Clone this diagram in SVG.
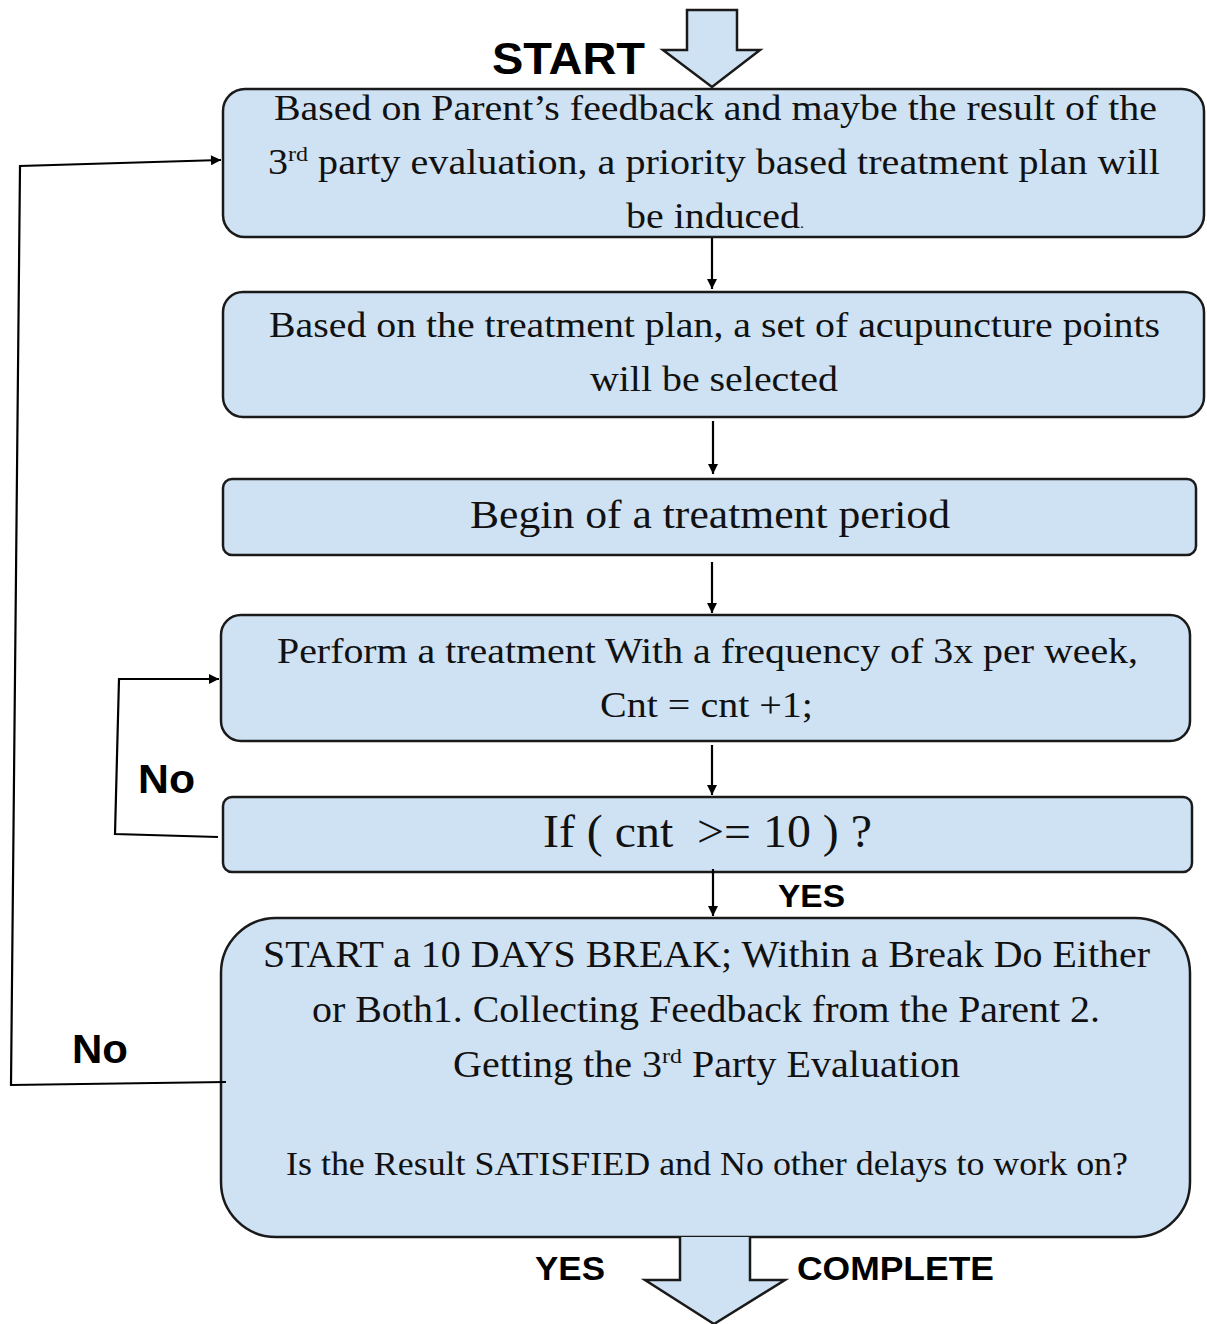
<svg xmlns="http://www.w3.org/2000/svg" width="1207" height="1324" viewBox="0 0 1207 1324">
<style>
.box{fill:#cfe2f3;stroke:#1a1a1a;stroke-width:2.5}
.big{fill:#cfe2f3;stroke:#1a1a1a;stroke-width:2.5;stroke-linejoin:miter}
.t{font-family:"Liberation Serif","Times New Roman",serif;fill:#111;text-anchor:middle}
.lbl{font-family:"Liberation Sans",Arial,sans-serif;font-weight:bold;fill:#000}
.c{fill:none;stroke:#000;stroke-width:2.2}
</style>
<defs>
<marker id="ah" viewBox="0 0 10 10" refX="10" refY="5" markerWidth="12" markerHeight="10" markerUnits="userSpaceOnUse" orient="auto">
<path d="M0,0 L10,5 L0,10 z" fill="#000"/>
</marker>
</defs>
<g id="start-arrow">
<path class="big" d="M687,10 H737 V50 H760 L712,87 L663,50 H687 Z"/>
<text class="lbl" x="492" y="74" font-size="44" textLength="153" lengthAdjust="spacingAndGlyphs">START</text>
</g>
<g id="n1">
<rect class="box" x="223" y="89" width="981" height="148" rx="22"/>
<text class="t" font-size="35" x="715.5" y="120" textLength="883" lengthAdjust="spacingAndGlyphs">Based on Parent’s feedback and maybe the result of the</text>
<text class="t" font-size="35" x="714" y="174" textLength="892" lengthAdjust="spacingAndGlyphs">3<tspan font-size="21" dy="-13">rd</tspan><tspan dy="13"> party evaluation, a priority based treatment plan will</tspan></text>
<text class="t" font-size="35" x="715" y="228" textLength="178" lengthAdjust="spacingAndGlyphs">be induced<tspan font-size="14">.</tspan></text>
</g>
<g id="n2">
<rect class="box" x="223" y="292" width="981" height="125" rx="20"/>
<text class="t" font-size="35" x="714.5" y="337" textLength="891" lengthAdjust="spacingAndGlyphs">Based on the treatment plan, a set of acupuncture points</text>
<text class="t" font-size="35" x="714" y="391" textLength="248" lengthAdjust="spacingAndGlyphs">will be selected</text>
</g>
<g id="n3">
<rect class="box" x="223" y="479" width="973" height="76" rx="9"/>
<text class="t" font-size="40" x="710" y="528" textLength="480" lengthAdjust="spacingAndGlyphs">Begin of a treatment period</text>
</g>
<g id="n4">
<rect class="box" x="221" y="615" width="969" height="126" rx="20"/>
<text class="t" font-size="36" x="707.5" y="663" textLength="861" lengthAdjust="spacingAndGlyphs">Perform a treatment With a frequency of 3x per week,</text>
<text class="t" font-size="36" x="706.5" y="717" textLength="213" lengthAdjust="spacingAndGlyphs">Cnt = cnt +1;</text>
</g>
<g id="n5">
<rect class="box" x="223" y="797" width="969" height="75" rx="9"/>
<text class="t" font-size="46" x="707.5" y="847" textLength="329" lengthAdjust="spacingAndGlyphs" style="white-space:pre">If ( cnt  &gt;= 10 ) ?</text>
</g>
<g id="n6">
<rect class="box" x="221" y="918" width="969" height="319" rx="55"/>
<text class="t" font-size="37" x="706.5" y="967" textLength="887" lengthAdjust="spacingAndGlyphs">START a 10 DAYS BREAK; Within a Break Do Either</text>
<text class="t" font-size="37" x="706" y="1022" textLength="788" lengthAdjust="spacingAndGlyphs">or Both1. Collecting Feedback from the Parent 2.</text>
<text class="t" font-size="37" x="706.5" y="1077" textLength="507" lengthAdjust="spacingAndGlyphs">Getting the 3<tspan font-size="22" dy="-14">rd</tspan><tspan dy="14"> Party Evaluation</tspan></text>
<text class="t" font-size="34" x="707" y="1175" textLength="842" lengthAdjust="spacingAndGlyphs">Is the Result SATISFIED and No other delays to work on?</text>
</g>
<g id="end-arrow">
<path class="big" d="M680,1237 V1280 H645 L714,1324 L785,1280 H750 V1237"/>
<text class="lbl" x="535" y="1280" font-size="34" textLength="70" lengthAdjust="spacingAndGlyphs">YES</text>
<text class="lbl" x="797" y="1280" font-size="34" textLength="197" lengthAdjust="spacingAndGlyphs">COMPLETE</text>
</g>
<g id="connectors">
<line class="c" x1="712" y1="238" x2="712" y2="289" marker-end="url(#ah)"/>
<line class="c" x1="713" y1="421" x2="713" y2="474" marker-end="url(#ah)"/>
<line class="c" x1="712" y1="562" x2="712" y2="613" marker-end="url(#ah)"/>
<line class="c" x1="712" y1="745" x2="712" y2="795" marker-end="url(#ah)"/>
<line class="c" x1="713" y1="869" x2="713" y2="916" marker-end="url(#ah)"/>
<polyline class="c" points="218,837 115,834 119,679 219,679" marker-end="url(#ah)"/>
<polyline class="c" points="226,1082 11,1085 20,166 221,160" marker-end="url(#ah)"/>
<text class="lbl" x="138" y="793" font-size="40" textLength="57" lengthAdjust="spacingAndGlyphs">No</text>
<text class="lbl" x="72" y="1063" font-size="40" textLength="56" lengthAdjust="spacingAndGlyphs">No</text>
<text class="lbl" x="778" y="907" font-size="32" textLength="67" lengthAdjust="spacingAndGlyphs">YES</text>
</g>
</svg>
